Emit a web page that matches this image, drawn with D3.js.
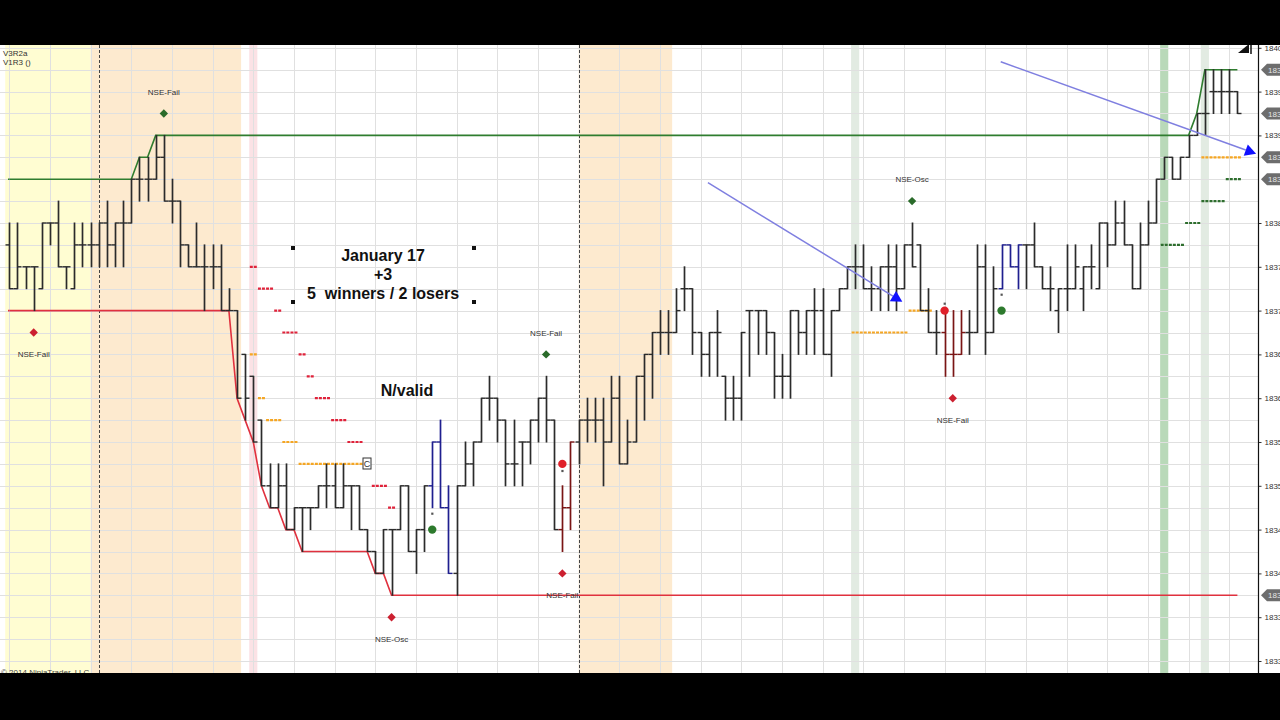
<!DOCTYPE html>
<html>
<head>
<meta charset="utf-8">
<script src="https://cdn.jsdelivr.net/npm/d3@7"></script>
<style>
  body { margin: 0; background: #000; }
  svg { display: block; font-family: Arial, "Liberation Sans", sans-serif; }
</style>
</head>
<body>
<svg id="chart" width="1280" height="720"></svg>
<script>
// ---- OHLC bars (ES, 1 tick = 0.25) ----
const opens = [
  1837.75,1837.25,1837.5,1837.5,1837.25,1838,1838,1837.5,1837.25,1837.75,
  1837.75,1837.75,1838,1837.75,1838,1838,1838.5,1838.5,1838.5,1838.75,
  1838.25,1838.25,1837.75,1837.5,1837.5,1837.5,1837.5,1837,1837,1836.5,
  1836.25,1835.75,1835,1834.75,1835,1834.5,1834.75,1834.75,1834.75,1835,
  1835,1834.75,1835,1835,1834.5,1834.25,1834,1834.5,1834.5,1835,
  1834.25,1834.5,1835,1835.5,1834.75,1834,1835,1835.25,1835.5,1836,
  1836,1835.75,1835.25,1835.5,1835.5,1835.75,1836,1835.75,1834.5,1834.75,
  1835.5,1835.75,1835.75,1835.75,1835.5,1836,1835.25,1835.5,1836.25,1836.5,
  1836.75,1836.75,1836.75,1837.25,1837.25,1836.75,1836.5,1836.75,1836.25,1836,
  1836,1837,1837,1837,1836.75,1836.25,1836.25,1837,1836.75,1837,
  1837,1836.5,1837,1837.25,1837.5,1837.5,1837.25,1837.25,1837.5,1837.5,
  1837.25,1837.75,1837.75,1837,1836.75,1836.75,1836.5,1836.5,1836.75,1836.75,
  1837.5,1836.75,1837.25,1837.75,1837.5,1837.75,1837.75,1837.5,1837.25,1837,
  1837.25,1837.25,1837.25,1837.5,1837.25,1838,1837.75,1838,1837.75,1837.25,
  1837.75,1838,1838.5,1838.75,1838.5,1838.75,1839,1839.25,1839.5,1839.5,
  1839.5,1839.5
];
const highs = [
  1838,1838,1837.5,1837.5,1838,1838,1838.25,1837.5,1838,1838,
  1838,1838,1838.25,1838,1838.25,1838.5,1838.75,1838.75,1839,1839,
  1838.5,1838.25,1837.75,1838,1837.75,1837.75,1837.75,1837.25,1837,1836.5,
  1836.25,1835.75,1835.25,1835.25,1835.25,1834.75,1834.75,1834.75,1835,1835.25,
  1835.25,1835.25,1835,1835,1834.5,1834.25,1834.5,1834.5,1835,1835,
  1834.5,1835,1835.5,1835.75,1835,1835,1835.5,1835.5,1836,1836.25,
  1836,1835.75,1835.75,1835.5,1835.75,1836,1836.25,1835.75,1835,1835.5,
  1835.75,1836,1836,1836,1836.25,1836.25,1835.75,1836.25,1836.5,1836.75,
  1837,1837,1837.25,1837.5,1837.25,1836.75,1836.75,1837,1836.25,1836.25,
  1836.75,1837,1837,1837,1836.75,1836.5,1837,1837,1837,1837.25,
  1837.25,1837,1837.25,1837.5,1837.75,1837.75,1837.5,1837.5,1837.75,1837.75,
  1837.75,1838,1837.75,1837.25,1837,1837,1837,1837,1837,1837.75,
  1837.75,1837.5,1837.75,1837.75,1837.75,1837.75,1838,1837.5,1837.5,1837.25,
  1837.75,1837.75,1837.5,1837.75,1838,1838,1838.25,1838.25,1837.75,1838,
  1838.25,1838.5,1838.75,1838.75,1838.75,1839,1839.25,1839.75,1839.75,1839.75,
  1839.75,1839.5
];
const lows = [
  1837.25,1837.25,1837.25,1837,1837.25,1837.75,1837.5,1837.25,1837.25,1837.5,
  1837.5,1837.5,1837.5,1837.5,1837.5,1838,1838.25,1838.25,1838.5,1838.25,
  1838,1837.5,1837.5,1837.5,1837,1837.25,1837,1837,1836,1835.75,
  1835.5,1835,1834.75,1834.75,1834.5,1834.5,1834.25,1834.5,1834.75,1834.75,
  1834.75,1834.75,1834.5,1834.5,1834.25,1834,1834,1833.75,1834.5,1834.25,
  1834,1834.25,1834.75,1834.75,1834,1833.75,1835,1835,1835.5,1835.75,
  1835.5,1835,1835,1835,1835.25,1835.5,1835.5,1834.5,1834.25,1834.5,
  1835.25,1835.5,1835.5,1835,1835.5,1835.25,1835.25,1835.5,1835.75,1836,
  1836.5,1836.5,1836.75,1837,1836.5,1836.25,1836.25,1836.25,1835.75,1835.75,
  1835.75,1836.25,1836.5,1836.5,1836,1836,1836,1836.5,1836.5,1836.5,
  1836.5,1836.25,1837,1837.25,1837.25,1837.25,1837,1837,1837,1837,
  1837.25,1837.5,1837,1836.75,1836.5,1836.25,1836.25,1836.5,1836.5,1836.75,
  1836.5,1836.75,1837.25,1837.5,1837.25,1837.25,1837.5,1837.25,1837,1836.75,
  1837,1837.25,1837,1837.25,1837.25,1837.5,1837.75,1837.75,1837.25,1837.25,
  1837.75,1838,1838.5,1838.5,1838.5,1838.75,1839,1839,1839.25,1839.25,
  1839.25,1839.25
];
const closes = [
  1837.25,1837.5,1837.5,1837.5,1838,1838,1837.5,1837.5,1837.75,1837.75,
  1837.75,1838,1837.75,1838,1838,1838.5,1838.5,1838.5,1838.75,1838.25,
  1838.25,1837.75,1837.5,1837.5,1837.5,1837.5,1837,1837,1836,1836,
  1835.5,1835,1834.75,1835,1834.5,1834.75,1834.75,1834.75,1835,1835,
  1834.75,1835,1835,1834.5,1834.25,1834,1834.5,1834.5,1835,1834.25,
  1834.5,1835,1835.5,1834.75,1834,1835,1835.25,1835.5,1836,1836,
  1835.75,1835.25,1835.25,1835.5,1835.75,1836,1835.75,1834.5,1834.75,1835.5,
  1835.75,1835.75,1835.75,1835.5,1836,1835.25,1835.5,1836.25,1836.5,1836.75,
  1836.75,1836.75,1837,1837.25,1836.75,1836.5,1836.75,1836.75,1836,1836,
  1836.75,1837,1837,1836.75,1836.25,1836.25,1837,1836.75,1837,1837,
  1836.5,1837,1837.25,1837.5,1837.5,1837.25,1837.25,1837.5,1837.5,1837.25,
  1837.75,1837.5,1837,1836.75,1836.75,1836.5,1836.5,1836.75,1836.75,1837.5,
  1836.75,1837.25,1837.75,1837.5,1837.75,1837.75,1837.5,1837.25,1837.25,1837.25,
  1837.25,1837.5,1837.5,1837.5,1838,1837.75,1838,1837.75,1837.25,1837.75,
  1838,1838.5,1838.75,1838.5,1838.75,1839,1839.25,1839.25,1839.5,1839.5,
  1839.5,1839.25
];

// bars drawn in signal colours
const blueBars = [52, 53, 54, 122, 123, 124];
const redBars = [68, 69, 115, 116, 117];

// channel lines: [bar, price] vertices
const channelHigh = [[0,1838.5],[15,1838.5],[16,1838.75],[17,1838.75],[18,1839],[145,1839],[146,1839.25],[147,1839.75],[151,1839.75]];
const channelLow = [[0,1837],[27,1837],[28,1836],[29,1835.75],[30,1835.5],[31,1835],[32,1834.75],[33,1834.75],[34,1834.5],[35,1834.5],[36,1834.25],[44,1834.25],[45,1834],[46,1834],[47,1833.75],[151,1833.75]];

// stop / target dashes: [bar, price]
const orangeLevels = [[30,1836.5],[31,1836],[32,1835.75],[33,1835.75],[34,1835.5],[35,1835.5],[36,1835.25],[37,1835.25],[38,1835.25],[39,1835.25],[40,1835.25],[41,1835.25],[42,1835.25],[43,1835.25],
  [104,1836.75],[105,1836.75],[106,1836.75],[107,1836.75],[108,1836.75],[109,1836.75],[110,1836.75],[111,1837],[112,1837],[113,1837],
  [147,1838.75],[148,1838.75],[149,1838.75],[150,1838.75],[151,1838.75]];
const redLevels = [[30,1837.5],[31,1837.25],[32,1837.25],[33,1837],[34,1836.75],[35,1836.75],[36,1836.5],[37,1836.25],[38,1836],[39,1836],[40,1835.75],[41,1835.75],[42,1835.5],[43,1835.5],[45,1835],[46,1835],[47,1834.75]];
const greenLevels = [[142,1837.75],[143,1837.75],[144,1837.75],[145,1838],[146,1838],[147,1838.25],[148,1838.25],[149,1838.25],[150,1838.5],[151,1838.5]];

// signal diamonds
const upSignals = [
  {bar: 19, price: 1839.25, label: "NSE-Fail"},
  {bar: 66, price: 1836.5, label: "NSE-Fail"},
  {bar: 111, price: 1838.25, label: "NSE-Osc"}
];
const downSignals = [
  {bar: 3, price: 1836.75, label: "NSE-Fail"},
  {bar: 47, price: 1833.5, label: "NSE-Osc"},
  {bar: 68, price: 1834, label: "NSE-Fail"},
  {bar: 116, price: 1836, label: "NSE-Fail"}
];
// entry dots (tag = offset of the fill marker)
const longEntries = [{bar: 52, price: 1834.5, tag: -16}, {bar: 122, price: 1837, tag: -16}];
const shortEntries = [{bar: 68, price: 1835.25, tag: 7}, {bar: 115, price: 1837, tag: -7}];

// drawn arrows: [bar, price] start and end
const arrows = [
  [[85.9, 1838.46], [109.8, 1837.10]],
  [[121.9, 1839.84], [153.3, 1838.79]]
];

// session shading in bar units
const sessionBands = [
  {from: -0.5, to: 10, fill: "#fffdd2"},
  {from: 10, to: 28.5, fill: "#fdeacf"},
  {from: 29.5, to: 30.5, fill: "#fbe2e5"},
  {from: 70, to: 81.5, fill: "#fdeacf"},
  {from: 103.5, to: 104.5, fill: "#e2ebe2"},
  {from: 141.5, to: 142.5, fill: "#b9d9b9"},
  {from: 146.5, to: 147.5, fill: "#e2ebe2"}
];
const sessionBreaks = [11, 70];

// axis ticks and last-value flags
const axisTicks = [1833,1833.5,1834,1834.5,1835,1835.5,1836,1836.5,1837,1837.5,1838,1839,1839.5,1840];
const lastValueFlags = [1839.75, 1839.25, 1838.75, 1838.5, 1833.75];

// ---------------------------------------------------------------
const svg = d3.select("#chart");
const W = 1280, H = 720;
const plot = {left: 0, right: 1258, top: 45, bottom: 673};

const x = d3.scaleLinear().domain([0, 151]).range([9.3, 1237.4]);
const y = d3.scaleLinear().domain([1833, 1840]).range([661, 47.8]);

svg.append("rect").attr("width", W).attr("height", H).attr("fill", "#000");
svg.append("rect").attr("x", 0).attr("y", plot.top).attr("width", W).attr("height", plot.bottom - plot.top).attr("fill", "#fff");

svg.append("defs").append("clipPath").attr("id", "plotClip")
  .append("rect").attr("x", plot.left).attr("y", plot.top)
  .attr("width", plot.right - plot.left).attr("height", plot.bottom - plot.top);

const g = svg.append("g").attr("clip-path", "url(#plotClip)");

// shading
g.selectAll("rect.band").data(sessionBands).join("rect")
  .attr("x", d => x(d.from)).attr("width", d => x(d.to) - x(d.from))
  .attr("y", plot.top).attr("height", plot.bottom - plot.top)
  .attr("fill", d => d.fill);

// grid
const hGrid = d3.range(1832.75, 1840.01, 0.25);
g.selectAll("line.hg").data(hGrid).join("line")
  .attr("x1", plot.left).attr("x2", plot.right)
  .attr("y1", d => Math.round(y(d)) + 0.5).attr("y2", d => Math.round(y(d)) + 0.5)
  .attr("stroke", "#e0e0e0").attr("stroke-width", 1);
const vGrid = d3.range(0, 152, 5);
g.selectAll("line.vg").data(vGrid).join("line")
  .attr("x1", d => Math.round(x(d)) + 0.5).attr("x2", d => Math.round(x(d)) + 0.5)
  .attr("y1", plot.top).attr("y2", plot.bottom)
  .attr("stroke", "#e0e0e0").attr("stroke-width", 1);

// session break lines
g.selectAll("line.sb").data(sessionBreaks).join("line")
  .attr("x1", d => Math.round(x(d)) + 0.5).attr("x2", d => Math.round(x(d)) + 0.5)
  .attr("y1", plot.top).attr("y2", plot.bottom)
  .attr("stroke", "#444").attr("stroke-width", 1).attr("stroke-dasharray", "3,2");

// channel lines
const chLine = d3.line().x(d => x(d[0])).y(d => y(d[1]));
g.append("path").datum(channelHigh).attr("d", chLine)
  .attr("fill", "none").attr("stroke", "#2f7d2f").attr("stroke-width", 1.6);
g.append("path").datum(channelLow).attr("d", chLine)
  .attr("fill", "none").attr("stroke", "#e0313e").attr("stroke-width", 1.6);
// continuation of channels to the left edge
g.append("line").attr("x1", 8).attr("x2", x(0)).attr("y1", y(channelHigh[0][1])).attr("y2", y(channelHigh[0][1]))
  .attr("stroke", "#2f7d2f").attr("stroke-width", 1.6);
g.append("line").attr("x1", 8).attr("x2", x(0)).attr("y1", y(channelLow[0][1])).attr("y2", y(channelLow[0][1]))
  .attr("stroke", "#e0313e").attr("stroke-width", 1.6);

// level dashes
function levelDashes(data, color) {
  g.selectAll(null).data(data).join("line")
    .attr("x1", d => x(d[0]) - 3.5).attr("x2", d => x(d[0]) + 3.5)
    .attr("y1", d => y(d[1])).attr("y2", d => y(d[1]))
    .attr("stroke", color).attr("stroke-width", 2.2)
    .attr("stroke-dasharray", "3,1");
}
levelDashes(orangeLevels, "#f5a623");
levelDashes(redLevels, "#e0223a");
levelDashes(greenLevels, "#2e6e2e");

// OHLC bars
const bars = d3.range(opens.length).map(i => ({
  i, o: opens[i], h: highs[i], l: lows[i], c: closes[i],
  color: blueBars.includes(i) ? "#1f1f8f" : redBars.includes(i) ? "#7a1515" : "#2b2b2b"
}));
const bg = g.append("g");
bars.forEach(b => {
  const cx = Math.round(x(b.i)) + 0.5;
  bg.append("line").attr("x1", cx).attr("x2", cx)
    .attr("y1", y(b.h) - 0.5).attr("y2", y(b.l) + 0.5)
    .attr("stroke", b.color).attr("stroke-width", 1.7);
  bg.append("line").attr("x1", cx - 4).attr("x2", cx)
    .attr("y1", y(b.o)).attr("y2", y(b.o))
    .attr("stroke", b.color).attr("stroke-width", 1.4);
  bg.append("line").attr("x1", cx).attr("x2", cx + 4)
    .attr("y1", y(b.c)).attr("y2", y(b.c))
    .attr("stroke", b.color).attr("stroke-width", 1.4);
});

// arrows
arrows.forEach(([a, b]) => {
  const x1 = x(a[0]), y1 = y(a[1]), x2 = x(b[0]), y2 = y(b[1]);
  const len = Math.hypot(x2 - x1, y2 - y1), ux = (x2 - x1) / len, uy = (y2 - y1) / len;
  const bx = x2 - ux * 11, by = y2 - uy * 11, px = -uy * 6, py = ux * 6;
  g.append("line").attr("x1", x1).attr("y1", y1).attr("x2", bx).attr("y2", by)
    .attr("stroke", "#7f7fe0").attr("stroke-width", 1.5);
  g.append("polygon")
    .attr("points", [[x2, y2], [bx + px, by + py], [bx - px, by - py]].map(p => p.join(",")).join(" "))
    .attr("fill", "#1010ff");
});

// diamonds + labels (rotated squares)
const diamondPath = "M0,-4.2L4.2,0L0,4.2L-4.2,0Z";
g.selectAll("path.up").data(upSignals).join("path")
  .attr("d", diamondPath).attr("transform", d => `translate(${x(d.bar)},${y(d.price)})`)
  .attr("fill", "#2a6b2a");
g.selectAll("text.up").data(upSignals).join("text")
  .attr("x", d => x(d.bar)).attr("y", d => y(d.price + 0.25) + 3)
  .attr("text-anchor", "middle").attr("font-size", 8).attr("fill", "#333").text(d => d.label);
g.selectAll("path.dn").data(downSignals).join("path")
  .attr("d", diamondPath).attr("transform", d => `translate(${x(d.bar)},${y(d.price)})`)
  .attr("fill", "#cc2030");
g.selectAll("text.dn").data(downSignals).join("text")
  .attr("x", d => x(d.bar)).attr("y", d => y(d.price - 0.25) + 3)
  .attr("text-anchor", "middle").attr("font-size", 8).attr("fill", "#333").text(d => d.label);

// entry dots
function entries(data, color) {
  g.selectAll(null).data(data).join("circle")
    .attr("cx", d => x(d.bar)).attr("cy", d => y(d.price)).attr("r", 4.2)
    .attr("fill", color);
  g.selectAll(null).data(data).join("rect")
    .attr("x", d => x(d.bar) - 1).attr("y", d => y(d.price) + d.tag - 1)
    .attr("width", 2.2).attr("height", 2.2).attr("fill", "#555");
}
entries(longEntries, "#2d7a2d");
entries(shortEntries, "#e0202a");

// text annotation
const note = g.append("g").attr("font-weight", "bold").attr("font-size", 16)
  .attr("fill", "#111").attr("text-anchor", "middle");
note.append("text").attr("x", 383).attr("y", 261).text("January 17");
note.append("text").attr("x", 383).attr("y", 280).text("+3");
note.append("text").attr("x", 383).attr("y", 299).text("5\u00a0 winners / 2 losers");
[[293, 248], [474, 248], [293, 302], [474, 302]].forEach(([hx, hy]) =>
  g.append("rect").attr("x", hx - 2).attr("y", hy - 2).attr("width", 4).attr("height", 4).attr("fill", "#111"));
g.append("text").attr("x", 407).attr("y", 396).attr("text-anchor", "middle")
  .attr("font-weight", "bold").attr("font-size", 16).attr("fill", "#111").text("N/valid");

// small "C" tag
g.append("rect").attr("x", 363).attr("y", 458).attr("width", 8).attr("height", 11)
  .attr("fill", "#fff").attr("stroke", "#333").attr("stroke-width", 1);
g.append("text").attr("x", 367).attr("y", 467).attr("text-anchor", "middle")
  .attr("font-size", 9).attr("fill", "#333").text("C");

// indicator caption
g.append("text").attr("x", 3).attr("y", 56).attr("font-size", 8).attr("fill", "#333").text("V3R2a");
g.append("text").attr("x", 3).attr("y", 65).attr("font-size", 8).attr("fill", "#333").text("V1R3 ()");

// copyright
svg.append("text").attr("x", 1).attr("y", 675).attr("font-size", 8).attr("fill", "#444").text("© 2014 NinjaTrader, LLC");

// price axis
const axis = svg.append("g").attr("transform", `translate(${plot.right + 0.5},0)`)
  .call(d3.axisRight(y).tickValues(axisTicks).tickFormat(d3.format(".2f")).tickSize(3).tickSizeOuter(0));
axis.select(".domain").remove();
axis.selectAll("line").attr("stroke", "#333");
axis.selectAll("text").attr("font-size", 8).attr("fill", "#333").attr("x", 6)
  .attr("font-family", "Arial, 'Liberation Sans', sans-serif");
svg.append("line").attr("x1", plot.right + 0.5).attr("x2", plot.right + 0.5)
  .attr("y1", plot.top).attr("y2", plot.bottom).attr("stroke", "#111").attr("stroke-width", 1.2);

// last value flags
const flags = svg.append("g");
lastValueFlags.forEach(v => {
  const fy = y(v);
  flags.append("polygon")
    .attr("points", `${plot.right + 3},${fy} ${plot.right + 9},${fy - 6} ${W + 5},${fy - 6} ${W + 5},${fy + 6} ${plot.right + 9},${fy + 6}`)
    .attr("fill", "#6d6d6d");
  flags.append("text").attr("x", plot.right + 10).attr("y", fy + 3)
    .attr("font-size", 8).attr("fill", "#e6e6e6").text(d3.format(".2f")(v));
});

// chart trader toggle glyph
svg.append("polygon").attr("points", "1238,53 1249,44 1249,53").attr("fill", "#111");
svg.append("line").attr("x1", 1251).attr("x2", 1251).attr("y1", 44).attr("y2", 54).attr("stroke", "#111").attr("stroke-width", 1.5);

// letterbox bars
svg.append("rect").attr("x", 0).attr("y", 0).attr("width", W).attr("height", plot.top).attr("fill", "#000");
svg.append("rect").attr("x", 0).attr("y", plot.bottom).attr("width", W).attr("height", H - plot.bottom).attr("fill", "#000");
</script>
</body>
</html>
